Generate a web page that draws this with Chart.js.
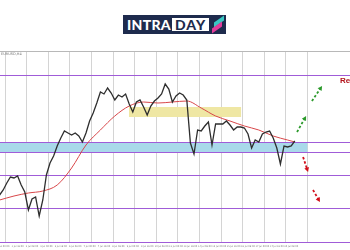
<!DOCTYPE html>
<html>
<head>
<meta charset="utf-8">
<script src="https://cdn.jsdelivr.net/npm/chart.js@4.4.1/dist/chart.umd.min.js"></script>
<style>
  html, body { margin: 0; padding: 0; background: #fff; }
  #wrap { position: relative; width: 350px; height: 250px; overflow: hidden; }
  #chart { position: absolute; left: 0; top: 0; }
  #logo {
    position: absolute; left: 123px; top: 15px; width: 103px; height: 19px;
    background: #1e2b4d; display: flex; align-items: center; box-sizing: border-box;
    padding-left: 4px; font-family: Lato, "Open Sans", sans-serif; font-weight: 900;
    font-size: 14px; color: #fff; letter-spacing: 0.3px;
  }
  #logo .b { background: #fff; color: #1e2b4d; height: 13px; line-height: 13px; padding: 0 3px; margin-left: 1px; letter-spacing: 1px; }
  #logo .ic { position: relative; width: 12px; height: 15px; margin-left: 3px; }
  #logo .ic i { position: absolute; width: 10px; height: 5px; transform: skewY(-35deg); }
  #logo .ic .t { background: #39c6c2; left: 2px; top: 2px; }
  #logo .ic .m { background: #e23c9a; left: 0; top: 8px; }
</style>
</head>
<body>
<div id="wrap">
  <canvas id="chart" width="350" height="250"></canvas>
  <div id="logo"><span>INTRA</span><span class="b">DAY</span><span class="ic"><i class="t"></i><i class="m"></i></span></div>
</div>
<script>
// H4 closes, 6 bars a day
const closes = [48,53,60,66,65,67,58,51,33,44, 46,27,43,68,80,87,97,105,112,110,
  108,110,107,101,110,122,130,140,151,149, 155,150,143,148,146,149,139,131,141,143,
  136,128,137,142,145,149,159,154,141,147, 150,148,143,100,89,113,112,117,121,98,
  119,119,119,122,118,113,116,116,115,109, 95,103,101,109,111,112,105,95,79,97,
  96,97,102];
const barsPerDay = 6;
const firstBarDay = -0.25;

// moving average, read every 4th bar
const maBars = [0,4,8,12,16,20,24,28,32,36,40,44,48,52,56,60,64,68,72,76,80,82];
const maVals = [43,47,50,52,58,75,98,113,127,137,141,140,141,142,135,127,122,117,113,107,103,101];

const levels = [167, 100.3, 90.3, 67.3, 34, 0];
const blueZone = [90.3, 100.3];
const blueZoneEnd = 14;
const yellowZone = [126, 136];
const yellowZoneDays = [5.74, 10.93];

const greenArrows = [[13.52, 111, 13.94, 127], [14.21, 142, 14.68, 157]];
const redArrows = [[13.80, 86, 14.03, 71], [14.26, 53, 14.58, 41]];

const gridDays = [0,1,2,3,4,5,6,7,8,9,10,11,12,13,14];
const labelBars = [1,5,9,13,17,21,25,29,33,37,41,45,49,53,57,61,65,69,73,77,81];
const tickLabels = ['1 Jul 00:00','1 Jul 16:00','2 Jul 08:00','3 Jul 00:00','3 Jul 16:00',
  '6 Jul 08:00','7 Jul 00:00','7 Jul 16:00','8 Jul 08:00','9 Jul 00:00','9 Jul 16:00',
  '10 Jul 08:00','13 Jul 00:00','13 Jul 16:00','14 Jul 08:00','15 Jul 00:00','15 Jul 16:00',
  '16 Jul 08:00','17 Jul 00:00','17 Jul 16:00','20 Jul 08:00'];

const xMin = -0.2315, xMax = 15.972;
const barDay = i => firstBarDay + i / barsPerDay;

const overlay = {
  id: 'overlay',
  beforeDatasetsDraw(chart) {
    const { ctx, chartArea: a, scales: { x, y } } = chart;
    ctx.save();
    // zones
    ctx.fillStyle = '#a9d9ea';
    ctx.fillRect(a.left, y.getPixelForValue(blueZone[1]), x.getPixelForValue(blueZoneEnd) - a.left,
      y.getPixelForValue(blueZone[0]) - y.getPixelForValue(blueZone[1]));
    ctx.fillStyle = '#efe7a4';
    const yx0 = x.getPixelForValue(yellowZoneDays[0]), yx1 = x.getPixelForValue(yellowZoneDays[1]);
    ctx.fillRect(yx0, y.getPixelForValue(yellowZone[1]), yx1 - yx0,
      y.getPixelForValue(yellowZone[0]) - y.getPixelForValue(yellowZone[1]));
    // levels
    ctx.strokeStyle = '#a05cd8';
    ctx.lineWidth = 1.2;
    levels.forEach(v => {
      const py = Math.round(y.getPixelForValue(v)) - 0.5;
      ctx.beginPath(); ctx.moveTo(a.left, py); ctx.lineTo(a.right, py); ctx.stroke();
    });
    ctx.fillStyle = '#777';
    ctx.font = '3.5px "DejaVu Sans"';
    ctx.textBaseline = 'top';
    ctx.fillText('EURUSD,H4', a.left + 1, a.top + 1);
    ctx.restore();
  },
  afterDatasetsDraw(chart) {
    const { ctx, scales: { x, y } } = chart;
    ctx.save();
    const arrow = (seg, color) => {
      const x0 = x.getPixelForValue(seg[0]), y0 = y.getPixelForValue(seg[1]);
      const x1 = x.getPixelForValue(seg[2]), y1 = y.getPixelForValue(seg[3]);
      const ang = Math.atan2(y1 - y0, x1 - x0);
      ctx.strokeStyle = color; ctx.fillStyle = color;
      ctx.lineWidth = 1.8; ctx.setLineDash([2.5, 2]);
      ctx.beginPath(); ctx.moveTo(x0, y0);
      ctx.lineTo(x1 - 3 * Math.cos(ang), y1 - 3 * Math.sin(ang)); ctx.stroke();
      ctx.setLineDash([]);
      ctx.beginPath();
      ctx.moveTo(x1, y1);
      ctx.lineTo(x1 - 5 * Math.cos(ang - 0.5), y1 - 5 * Math.sin(ang - 0.5));
      ctx.lineTo(x1 - 5 * Math.cos(ang + 0.5), y1 - 5 * Math.sin(ang + 0.5));
      ctx.closePath(); ctx.fill();
    };
    greenArrows.forEach(s => arrow(s, '#2c9a2c'));
    redArrows.forEach(s => arrow(s, '#d2101c'));
    ctx.fillStyle = '#b3141c';
    ctx.font = 'bold 8px "Liberation Sans"';
    ctx.textBaseline = 'alphabetic';
    ctx.fillText('Resistance', x.getPixelForValue(15.51), y.getPixelForValue(160));
    ctx.restore();
  }
};

const noSidePad = s => { s.paddingLeft = 0; s.paddingRight = 0; };

new Chart(document.getElementById('chart'), {
  type: 'line',
  data: {
    datasets: [
      {
        data: closes.map((c, i) => ({ x: barDay(i), y: c })),
        borderColor: '#2e2e2e', borderWidth: 1.3, pointRadius: 0, tension: 0
      },
      {
        data: maBars.map((b, i) => ({ x: barDay(b), y: maVals[i] })),
        borderColor: '#d8474a', borderWidth: 1, pointRadius: 0, cubicInterpolationMode: 'monotone'
      }
    ]
  },
  options: {
    responsive: false,
    animation: false,
    layout: { padding: { top: 51, left: 0, right: 0, bottom: 0 } },
    plugins: { legend: { display: false }, tooltip: { enabled: false } },
    scales: {
      x: {
        type: 'linear', min: xMin, max: xMax, position: 'bottom',
        grid: { display: false, drawTicks: false },
        border: { display: false },
        afterBuildTicks: s => { s.ticks = labelBars.map(b => ({ value: barDay(b) })); },
        afterFit: s => { s.height = 7; noSidePad(s); },
        ticks: {
          autoSkip: false, maxRotation: 0, padding: 2.5, color: '#777',
          font: { size: 2.3, family: 'DejaVu Sans' },
          callback: (v, i) => tickLabels[i]
        }
      },
      xg: {
        type: 'linear', min: xMin, max: xMax, position: 'top',
        afterBuildTicks: s => { s.ticks = gridDays.map(d => ({ value: d })); },
        afterFit: s => { s.height = 0; noSidePad(s); },
        ticks: { display: false },
        grid: { color: '#d4d4d4', drawTicks: false, lineWidth: 1 },
        border: { display: true, color: '#b8b8b8', dash: [] }
      },
      y: { display: false, min: 0, max: 192 }
    }
  },
  plugins: [overlay]
});
</script>
</body>
</html>
